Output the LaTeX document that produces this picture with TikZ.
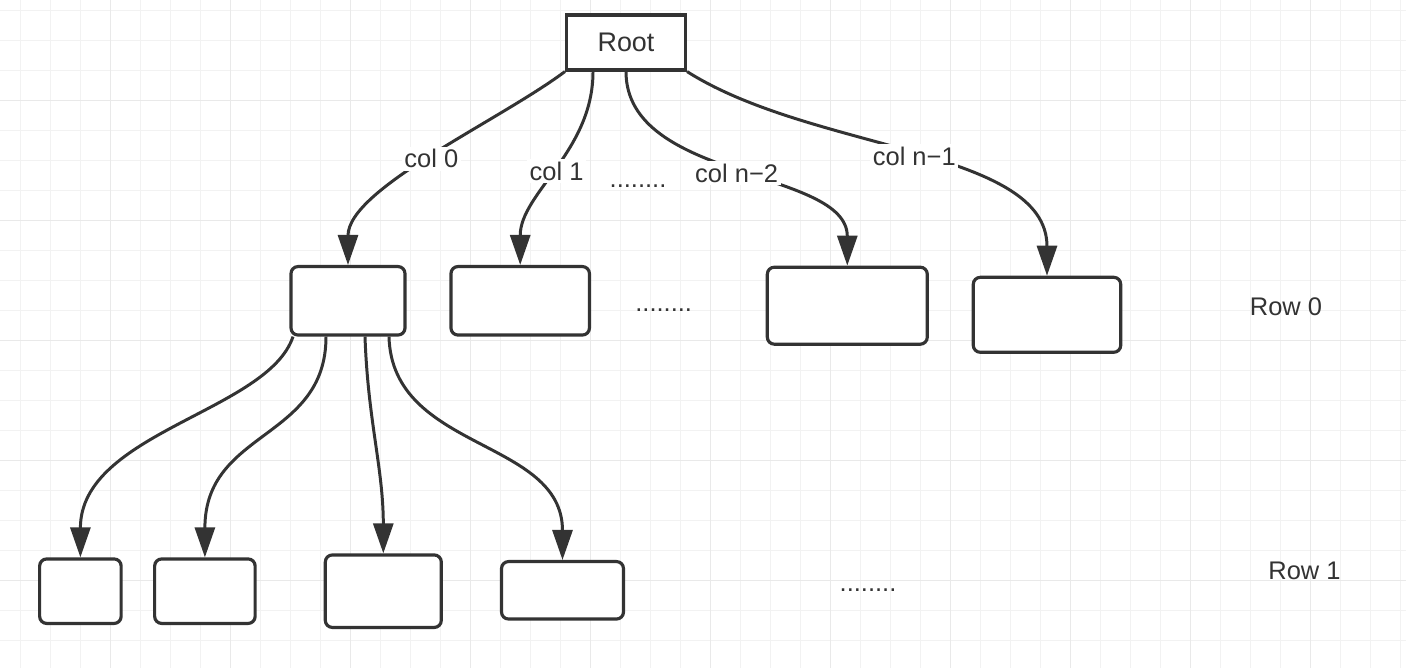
\documentclass[tikz,border=0pt]{standalone}
\usepackage{fontspec}
\setmainfont{Liberation Sans}
\usetikzlibrary{arrows.meta}
\definecolor{inkgray}{HTML}{333333}
\definecolor{gridminor}{HTML}{F2F2F2}
\definecolor{gridmajor}{HTML}{E9E9E9}

\begin{document}
\begin{tikzpicture}[x=0.02cm, y=-0.02cm,
    keybox/.style={draw=inkgray, line width=1.8pt, fill=white, inner sep=0pt, text=inkgray, font=\fontsize{15.3}{18}\selectfont},
    cellbox/.style={draw=inkgray, line width=1.8pt, fill=white, rounded corners=4pt, inner sep=0pt},
    link/.style={draw=inkgray, line width=1.7pt, -{Triangle[length=0.6cm, width=0.4cm]}},
    collabel/.style={fill=white, inner sep=1.5pt, text=inkgray, font=\fontsize{14.5}{17}\selectfont},
    plaintext/.style={text=inkgray, font=\fontsize{14.5}{17}\selectfont}]

        % Background grid
        \useasboundingbox (0,0) rectangle (1406,668);
        \fill[white] (0,0) rectangle (1406,668);
        \foreach \gx in {0,...,46}
            \draw[gridminor, line width=0.6pt] ({20.7+30*\gx},0) -- ({20.7+30*\gx},668);
        \foreach \gy in {0,...,21}
            \draw[gridminor, line width=0.6pt] (0,{10.7+30*\gy}) -- (1406,{10.7+30*\gy});
        \foreach \gx in {0,...,10}
            \draw[gridmajor, line width=0.8pt] ({110.7+120*\gx},0) -- ({110.7+120*\gx},668);
        \foreach \gy in {0,...,4}
            \draw[gridmajor, line width=0.8pt] (0,{100.7+120*\gy}) -- (1406,{100.7+120*\gy});

        % Root
        \node[keybox, minimum width=2.38cm, minimum height=1.10cm] (root) at (626,42.5) {Root};

        % Row 0
        \node[cellbox, minimum width=2.28cm, minimum height=1.37cm] (col0) at (348,300.8) {};
        \node[cellbox, minimum width=2.77cm, minimum height=1.37cm] (col1) at (520.2,300.8) {};
        \node[cellbox, minimum width=3.20cm, minimum height=1.54cm] (col2) at (847.3,305.7) {};
        \node[cellbox, minimum width=2.95cm, minimum height=1.50cm] (col3) at (1047,314.8) {};

        % Row 1
        \node[cellbox, minimum width=1.63cm, minimum height=1.29cm] (cell0) at (80.4,591.2) {};
        \node[cellbox, minimum width=2.01cm, minimum height=1.29cm] (cell1) at (204.9,591.2) {};
        \node[cellbox, minimum width=2.32cm, minimum height=1.45cm] (cell2) at (383.3,591.2) {};
        \node[cellbox, minimum width=2.44cm, minimum height=1.15cm] (cell3) at (562.5,590.3) {};

        % Root to row 0
        \draw[link] (root.south west) .. controls +(-67,50) and +(0,-76) .. node[collabel, midway] {col 0} (col0.north);
        \draw[link] ([xshift=-0.66cm]root.south) .. controls +(0,80) and +(0,-72) .. node[collabel, midway] {col 1} (col1.north);
        \draw[link] (root.south) .. controls +(0,110) and +(0,-97) .. node[collabel, midway] {col n−2} (col2.north);
        \draw[link] (root.south east) .. controls +(126,80) and +(0,-127) .. node[collabel, midway] {col n−1} (col3.north);

        % Row 0 to row 1
        \draw[link] ([xshift=-1.10cm]col0.south) .. controls +(-25,75) and +(0,-125) .. (cell0.north);
        \draw[link] ([xshift=-0.44cm]col0.south) .. controls +(0,104) and +(0,-128) .. (cell1.north);
        \draw[link] ([xshift=0.34cm]col0.south) .. controls +(3,85) and +(0,-85) .. (cell2.north);
        \draw[link] ([xshift=0.82cm]col0.south) .. controls +(3,115) and +(0,-122) .. (cell3.north);

        % Dots and row names
        \node[plaintext] (dotsroot) at (638,186) {........};
        \node[plaintext] (dotsrow0) at (663.7,309.7) {........};
        \node[plaintext] (dotsrow1) at (868,590) {........};
        \node[plaintext] (row0) at (1286,306.8) {Row 0};
        \node[plaintext] (row1) at (1304.5,570.8) {Row 1};
      \end{tikzpicture}
\end{document}
